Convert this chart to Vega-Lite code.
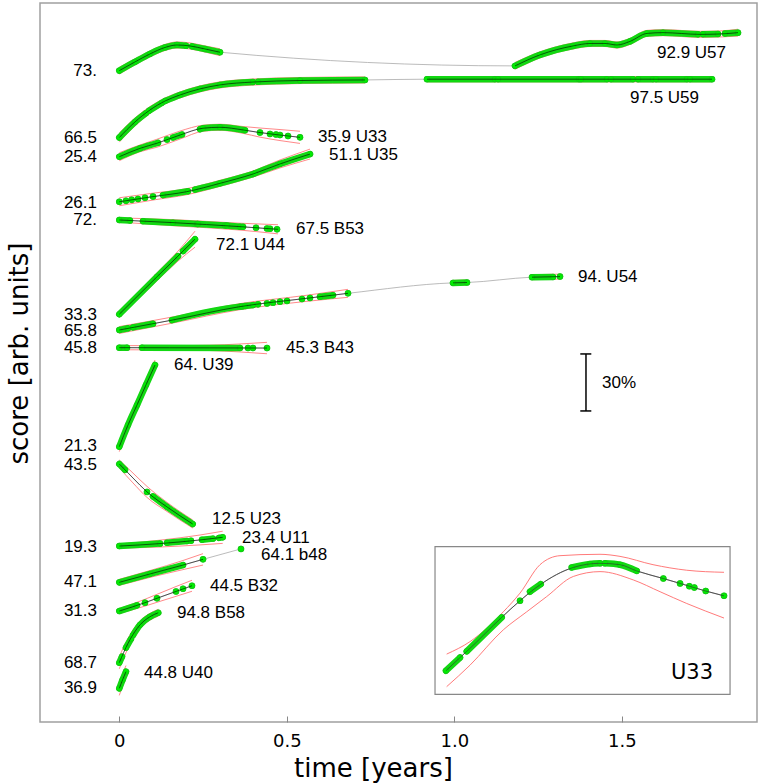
{
"$schema":"https://vega.github.io/schema/vega-lite/v6.json",
"width":717,"height":719,
"autosize":"none",
"padding":{"left":40,"top":3,"right":5,"bottom":62},
"config":{"view":{"stroke":"#a0a0a0","strokeWidth":1.5}},
"datasets":{
"curves":[
{"id":"U57","seg":"U57a","t":0,"v":342.8,"lo":341.0,"hi":344.6},
{"id":"U57","seg":"U57a","t":0.0469,"v":347.4,"lo":345.8,"hi":349.0},
{"id":"U57","seg":"U57a","t":0.0916,"v":351.6,"lo":350.0,"hi":353.2},
{"id":"U57","seg":"U57a","t":0.1364,"v":355.0,"lo":353.4,"hi":356.6},
{"id":"U57","seg":"U57a","t":0.1722,"v":356.3,"lo":354.7,"hi":357.9},
{"id":"U57","seg":"U57a","t":0.2110,"v":355.8,"lo":354.2,"hi":357.4},
{"id":"U57","seg":"U57a","t":0.2558,"v":354.2,"lo":352.6,"hi":355.8},
{"id":"U57","seg":"U57a","t":0.3006,"v":352.5,"lo":350.7,"hi":354.3},
{"id":"U57","seg":"U57b","t":1.1812,"v":345.3,"lo":343.5,"hi":347.1},
{"id":"U57","seg":"U57b","t":1.2558,"v":351.1,"lo":349.5,"hi":352.7},
{"id":"U57","seg":"U57b","t":1.3543,"v":355.8,"lo":354.2,"hi":357.4},
{"id":"U57","seg":"U57b","t":1.4051,"v":357.1,"lo":355.5,"hi":358.7},
{"id":"U57","seg":"U57b","t":1.4499,"v":357.1,"lo":355.5,"hi":358.7},
{"id":"U57","seg":"U57b","t":1.4857,"v":356.3,"lo":354.7,"hi":357.9},
{"id":"U57","seg":"U57b","t":1.5245,"v":358.2,"lo":356.6,"hi":359.8},
{"id":"U57","seg":"U57b","t":1.5752,"v":362.4,"lo":360.8,"hi":364.0},
{"id":"U57","seg":"U57b","t":1.6230,"v":362.8,"lo":361.2,"hi":364.4},
{"id":"U57","seg":"U57b","t":1.7334,"v":361.9,"lo":360.3,"hi":363.5},
{"id":"U57","seg":"U57b","t":1.7932,"v":362.1,"lo":360.5,"hi":363.7},
{"id":"U57","seg":"U57b","t":1.8469,"v":362.8,"lo":361.0,"hi":364.6},
{"id":"U59","seg":"U59a","t":0,"v":307.6,"lo":305.2,"hi":310.0},
{"id":"U59","seg":"U59a","t":0.0469,"v":315.8,"lo":313.7,"hi":317.9},
{"id":"U59","seg":"U59a","t":0.0916,"v":322.1,"lo":320.3,"hi":323.9},
{"id":"U59","seg":"U59a","t":0.1364,"v":326.8,"lo":325.2,"hi":328.4},
{"id":"U59","seg":"U59a","t":0.1812,"v":330.0,"lo":328.4,"hi":331.6},
{"id":"U59","seg":"U59a","t":0.2409,"v":333.2,"lo":331.6,"hi":334.8},
{"id":"U59","seg":"U59a","t":0.3006,"v":335.3,"lo":333.7,"hi":336.9},
{"id":"U59","seg":"U59a","t":0.3991,"v":336.8,"lo":335.2,"hi":338.4},
{"id":"U59","seg":"U59a","t":0.5394,"v":337.6,"lo":336.0,"hi":339.2},
{"id":"U59","seg":"U59a","t":0.7334,"v":337.9,"lo":336.3,"hi":339.5},
{"id":"U59","seg":"U59b","t":0.9185,"v":338.3,"lo":336.9,"hi":339.7},
{"id":"U59","seg":"U59b","t":1.1364,"v":338.3,"lo":336.9,"hi":339.7},
{"id":"U59","seg":"U59b","t":1.4349,"v":338.3,"lo":336.9,"hi":339.7},
{"id":"U59","seg":"U59b","t":1.7693,"v":338.3,"lo":336.9,"hi":339.7},
{"id":"U33","seg":"U33a","t":0,"v":297.5,"lo":295.4,"hi":299.6},
{"id":"U33","seg":"U33a","t":0.0618,"v":301.9,"lo":300.1,"hi":303.7},
{"id":"U33","seg":"U33a","t":0.1125,"v":304.6,"lo":302.5,"hi":306.7},
{"id":"U33","seg":"U33a","t":0.1812,"v":308.9,"lo":306.8,"hi":311.0},
{"id":"U33","seg":"U33a","t":0.2499,"v":312.5,"lo":310.9,"hi":314.1},
{"id":"U33","seg":"U33a","t":0.3006,"v":313.0,"lo":311.4,"hi":314.6},
{"id":"U33","seg":"U33a","t":0.3693,"v":311.6,"lo":309.8,"hi":313.4},
{"id":"U33","seg":"U33a","t":0.4200,"v":310.2,"lo":307.8,"hi":312.6},
{"id":"U33","seg":"U33a","t":0.4797,"v":308.9,"lo":306.0,"hi":311.8},
{"id":"U33","seg":"U33a","t":0.5394,"v":307.7,"lo":304.5,"hi":310.9},
{"id":"U35","seg":"U35a","t":0,"v":273.8,"lo":271.7,"hi":275.9},
{"id":"U35","seg":"U35a","t":0.1006,"v":276.5,"lo":274.7,"hi":278.3},
{"id":"U35","seg":"U35a","t":0.2012,"v":279.1,"lo":277.5,"hi":280.7},
{"id":"U35","seg":"U35a","t":0.3006,"v":283.5,"lo":281.9,"hi":285.1},
{"id":"U35","seg":"U35a","t":0.3991,"v":288.4,"lo":286.8,"hi":290.0},
{"id":"U35","seg":"U35a","t":0.4797,"v":293.7,"lo":291.6,"hi":295.8},
{"id":"U35","seg":"U35a","t":0.5693,"v":298.9,"lo":296.3,"hi":301.5},
{"id":"B53","seg":"B53a","t":0,"v":264.2,"lo":263.1,"hi":265.3},
{"id":"B53","seg":"B53a","t":0.1603,"v":262.8,"lo":261.2,"hi":264.4},
{"id":"B53","seg":"B53a","t":0.3603,"v":260.7,"lo":258.9,"hi":262.5},
{"id":"B53","seg":"B53a","t":0.4737,"v":259.3,"lo":256.9,"hi":261.7},
{"id":"U44","seg":"U44a","t":0,"v":214.6,"lo":213.0,"hi":216.2},
{"id":"U44","seg":"U44a","t":0.1125,"v":234.3,"lo":232.2,"hi":236.4},
{"id":"U44","seg":"U44a","t":0.1752,"v":245.2,"lo":242.6,"hi":247.8},
{"id":"U44","seg":"U44a","t":0.2260,"v":254.1,"lo":249.9,"hi":258.3},
{"id":"U54","seg":"U54a","t":0,"v":206.3,"lo":204.5,"hi":208.1},
{"id":"U54","seg":"U54a","t":0.1603,"v":211.6,"lo":210.0,"hi":213.2},
{"id":"U54","seg":"U54a","t":0.3603,"v":218.6,"lo":217.0,"hi":220.2},
{"id":"U54","seg":"U54a","t":0.5603,"v":223.0,"lo":221.4,"hi":224.6},
{"id":"U54","seg":"U54a","t":0.6827,"v":225.6,"lo":223.5,"hi":227.7},
{"id":"U54","seg":"U54b","t":0.9961,"v":231.1,"lo":229.8,"hi":232.4},
{"id":"U54","seg":"U54b","t":1.0379,"v":231.3,"lo":230.0,"hi":232.6},
{"id":"U54","seg":"U54c","t":1.2320,"v":234.1,"lo":232.8,"hi":235.4},
{"id":"U54","seg":"U54c","t":1.3155,"v":234.4,"lo":233.1,"hi":235.7},
{"id":"B43","seg":"B43a","t":0,"v":197.0,"lo":195.9,"hi":198.1},
{"id":"B43","seg":"B43a","t":0.15,"v":196.95,"lo":195.85,"hi":198.05},
{"id":"B43","seg":"B43a","t":0.27,"v":196.9,"lo":195.5,"hi":198.3},
{"id":"B43","seg":"B43a","t":0.3603,"v":196.85,"lo":194.75,"hi":198.95},
{"id":"B43","seg":"B43a","t":0.4409,"v":196.8,"lo":193.8,"hi":199.8},
{"id":"U39","seg":"U39a","t":0,"v":144.9,"lo":142.3,"hi":147.5},
{"id":"U39","seg":"U39a","t":0.0260,"v":156.3,"lo":153.9,"hi":158.7},
{"id":"U39","seg":"U39a","t":0.0528,"v":166.8,"lo":164.4,"hi":169.2},
{"id":"U39","seg":"U39a","t":0.0797,"v":177.4,"lo":175.0,"hi":179.8},
{"id":"U39","seg":"U39a","t":0.1066,"v":187.9,"lo":185.3,"hi":190.5},
{"id":"U23","seg":"U23a","t":0,"v":135.8,"lo":133.7,"hi":137.9},
{"id":"U23","seg":"U23a","t":0.0409,"v":128.4,"lo":125.8,"hi":131.0},
{"id":"U23","seg":"U23a","t":0.0827,"v":121.1,"lo":118.2,"hi":124.0},
{"id":"U23","seg":"U23a","t":0.1424,"v":113.2,"lo":110.8,"hi":115.6},
{"id":"U23","seg":"U23a","t":0.2191,"v":104.2,"lo":102.1,"hi":106.3},
{"id":"U11","seg":"U11a","t":0,"v":92.6,"lo":91.5,"hi":93.7},
{"id":"U11","seg":"U11a","t":0.1215,"v":93.9,"lo":92.1,"hi":95.7},
{"id":"U11","seg":"U11a","t":0.2409,"v":95.8,"lo":93.2,"hi":98.4},
{"id":"U11","seg":"U11a","t":0.3087,"v":97.2,"lo":94.0,"hi":100.4},
{"id":"b48","seg":"b48a","t":0,"v":73.5,"lo":71.9,"hi":75.1},
{"id":"b48","seg":"b48a","t":0.0916,"v":77.9,"lo":76.1,"hi":79.7},
{"id":"b48","seg":"b48a","t":0.1902,"v":82.6,"lo":80.2,"hi":85.0},
{"id":"b48","seg":"b48a","t":0.2499,"v":85.6,"lo":82.6,"hi":88.6},
{"id":"b48","seg":"b48x","t":0.3633,"v":91.1,"lo":91.1,"hi":91.1},
{"id":"B32","seg":"B32a","t":0,"v":58.4,"lo":57.1,"hi":59.7},
{"id":"B32","seg":"B32a","t":0.0767,"v":62.8,"lo":61.0,"hi":64.6},
{"id":"B32","seg":"B32a","t":0.1125,"v":65.1,"lo":63.0,"hi":67.2},
{"id":"B32","seg":"B32a","t":0.1722,"v":68.9,"lo":66.3,"hi":71.5},
{"id":"B32","seg":"B32a","t":0.2170,"v":71.7,"lo":68.8,"hi":74.6},
{"id":"B58","seg":"B58a","t":0,"v":31.2,"lo":28.0,"hi":34.4},
{"id":"B58","seg":"B58a","t":0.0260,"v":41.4,"lo":38.8,"hi":44.0},
{"id":"B58","seg":"B58a","t":0.0618,"v":51.1,"lo":49.0,"hi":53.2},
{"id":"B58","seg":"B58a","t":0.0916,"v":55.4,"lo":53.6,"hi":57.2},
{"id":"B58","seg":"B58a","t":0.1164,"v":57.5,"lo":55.7,"hi":59.3},
{"id":"U40","seg":"U40a","t":0,"v":17.7,"lo":14.0,"hi":21.4},
{"id":"U40","seg":"U40a","t":0.0096,"v":22.1,"lo":18.9,"hi":25.3},
{"id":"U40","seg":"U40a","t":0.0200,"v":26.5,"lo":23.3,"hi":29.7}
],
"obs":[
{"run":"U57-1","t":0,"v":342.8},{"run":"U57-1","t":0.0469,"v":347.4},{"run":"U57-1","t":0.0916,"v":351.6},{"run":"U57-1","t":0.1364,"v":355.0},{"run":"U57-1","t":0.1722,"v":356.3},{"run":"U57-1","t":0.1991,"v":355.9},
{"run":"U57-2","t":0.2170,"v":355.6},{"run":"U57-2","t":0.2558,"v":354.2},{"run":"U57-2","t":0.3006,"v":352.5},
{"run":"U57-3","t":1.1812,"v":345.3},{"run":"U57-3","t":1.2558,"v":351.1},{"run":"U57-3","t":1.3543,"v":355.8},{"run":"U57-3","t":1.4051,"v":357.1},{"run":"U57-3","t":1.4499,"v":357.1},{"run":"U57-3","t":1.4857,"v":356.3},{"run":"U57-3","t":1.5245,"v":358.2},{"run":"U57-3","t":1.5752,"v":362.4},{"run":"U57-3","t":1.6230,"v":362.8},{"run":"U57-3","t":1.7275,"v":361.9},
{"run":"U57-4","t":1.7424,"v":362.0},{"run":"U57-4","t":1.7872,"v":362.1},
{"run":"U57-5","t":1.8081,"v":362.3},{"run":"U57-5","t":1.8469,"v":362.8},
{"run":"U59-1","t":0,"v":307.6},{"run":"U59-1","t":0.0469,"v":315.8},{"run":"U59-1","t":0.0797,"v":320.4},
{"run":"U59-2","t":0.0887,"v":321.7},{"run":"U59-2","t":0.1275,"v":325.9},
{"run":"U59-3","t":0.1364,"v":326.8},{"run":"U59-3","t":0.1812,"v":330.0},{"run":"U59-3","t":0.2409,"v":333.2},{"run":"U59-3","t":0.3006,"v":335.3},{"run":"U59-3","t":0.3991,"v":336.8},
{"run":"U59-4","t":0.4140,"v":336.9},{"run":"U59-4","t":0.5394,"v":337.6},{"run":"U59-4","t":0.7334,"v":337.9},
{"run":"U59-5","t":0.9185,"v":338.3},{"run":"U59-5","t":1.1214,"v":338.3},
{"run":"U59-6","t":1.1304,"v":338.3},{"run":"U59-6","t":1.3722,"v":338.3},
{"run":"U59-7","t":1.3782,"v":338.3},{"run":"U59-7","t":1.4558,"v":338.3},
{"run":"U59-8","t":1.4678,"v":338.3},{"run":"U59-8","t":1.5334,"v":338.3},
{"run":"U59-9","t":1.5484,"v":338.3},{"run":"U59-9","t":1.5931,"v":338.3},
{"run":"U59-10","t":1.6021,"v":338.3},{"run":"U59-10","t":1.6946,"v":338.3},
{"run":"U59-11","t":1.7036,"v":338.3},{"run":"U59-11","t":1.7693,"v":338.3},
{"run":"U33-1","t":0,"v":297.5},{"run":"U33-1","t":0.0618,"v":301.9},{"run":"U33-1","t":0.1155,"v":304.8},
{"run":"U33-d1","t":0.1424,"v":306.5},
{"run":"U33-2","t":0.1603,"v":307.6},{"run":"U33-2","t":0.1872,"v":309.2},
{"run":"U33-3","t":0.2409,"v":312.0},{"run":"U33-3","t":0.2499,"v":312.5},{"run":"U33-3","t":0.3006,"v":313.0},{"run":"U33-3","t":0.3752,"v":311.4},
{"run":"U33-d2","t":0.4200,"v":310.2},{"run":"U33-d3","t":0.4499,"v":309.5},{"run":"U33-d4","t":0.4678,"v":309.2},{"run":"U33-d5","t":0.4797,"v":308.9},{"run":"U33-d6","t":0.5036,"v":308.4},{"run":"U33-d7","t":0.5394,"v":307.7},
{"run":"U35-d1","t":0,"v":273.8},{"run":"U35-d2","t":0.0200,"v":274.3},{"run":"U35-d3","t":0.0370,"v":274.8},{"run":"U35-d4","t":0.0558,"v":275.3},{"run":"U35-d5","t":0.0767,"v":275.9},{"run":"U35-d6","t":0.1006,"v":276.5},
{"run":"U35-1","t":0.1304,"v":277.3},{"run":"U35-1","t":0.2051,"v":279.3},
{"run":"U35-2","t":0.2260,"v":280.2},{"run":"U35-2","t":0.3006,"v":283.5},{"run":"U35-2","t":0.3991,"v":288.4},
{"run":"U35-3","t":0.4051,"v":288.8},{"run":"U35-3","t":0.4797,"v":293.7},{"run":"U35-3","t":0.5693,"v":298.9},
{"run":"B53-1","t":0,"v":264.2},{"run":"B53-1","t":0.0319,"v":263.9},
{"run":"B53-2","t":0.0707,"v":263.6},{"run":"B53-2","t":0.1603,"v":262.8},{"run":"B53-2","t":0.2319,"v":262.1},
{"run":"B53-3","t":0.2349,"v":262.1},{"run":"B53-3","t":0.3155,"v":261.3},
{"run":"B53-4","t":0.3215,"v":261.3},{"run":"B53-4","t":0.3603,"v":260.7},{"run":"B53-4","t":0.3693,"v":260.6},
{"run":"B53-d1","t":0.4081,"v":260.1},{"run":"B53-d2","t":0.4409,"v":259.7},{"run":"B53-d3","t":0.4499,"v":259.6},{"run":"B53-d4","t":0.4708,"v":259.3},
{"run":"U44-1","t":0,"v":214.6},{"run":"U44-1","t":0.1125,"v":234.3},{"run":"U44-1","t":0.1752,"v":245.2},
{"run":"U44-2","t":0.1902,"v":247.8},{"run":"U44-2","t":0.2260,"v":254.1},
{"run":"U54-1","t":0,"v":206.3},{"run":"U54-1","t":0.0260,"v":207.2},
{"run":"U54-2","t":0.0409,"v":207.7},{"run":"U54-2","t":0.1006,"v":209.6},
{"run":"U54-3","t":0.1573,"v":211.5},{"run":"U54-3","t":0.3603,"v":218.6},{"run":"U54-3","t":0.3663,"v":218.7},
{"run":"U54-4","t":0.3752,"v":218.9},{"run":"U54-4","t":0.3991,"v":219.4},
{"run":"U54-d1","t":0.4140,"v":219.8},{"run":"U54-d2","t":0.4409,"v":220.3},{"run":"U54-d3","t":0.4588,"v":220.7},{"run":"U54-d4","t":0.4797,"v":221.2},{"run":"U54-d5","t":0.5006,"v":221.6},{"run":"U54-d6","t":0.5454,"v":222.6},{"run":"U54-d7","t":0.5693,"v":223.2},
{"run":"U54-5","t":0.5991,"v":223.8},{"run":"U54-5","t":0.6379,"v":224.6},
{"run":"U54-d8","t":0.6827,"v":225.6},
{"run":"U54-6","t":0.9961,"v":231.1},{"run":"U54-6","t":1.0379,"v":231.3},
{"run":"U54-7","t":1.2320,"v":234.1},{"run":"U54-7","t":1.2946,"v":234.2},
{"run":"U54-d9","t":1.3155,"v":234.4},
{"run":"B43-1","t":0,"v":197.0},{"run":"B43-1","t":0.0230,"v":197.0},
{"run":"B43-2","t":0.0678,"v":197.0},{"run":"B43-2","t":0.3603,"v":196.85},
{"run":"B43-d1","t":0.3842,"v":196.83},{"run":"B43-d2","t":0.3991,"v":196.82},{"run":"B43-d3","t":0.4409,"v":196.8},
{"run":"U39-1","t":0,"v":144.9},{"run":"U39-1","t":0.0260,"v":156.3},{"run":"U39-1","t":0.0528,"v":166.8},{"run":"U39-1","t":0.0797,"v":177.4},{"run":"U39-1","t":0.1066,"v":187.9},
{"run":"U23-1","t":0,"v":135.8},{"run":"U23-1","t":0.0170,"v":132.7},
{"run":"U23-d1","t":0.0827,"v":121.1},
{"run":"U23-2","t":0.1006,"v":118.7},{"run":"U23-2","t":0.1424,"v":113.2},{"run":"U23-2","t":0.2191,"v":104.2},
{"run":"U11-1","t":0,"v":92.6},{"run":"U11-1","t":0.1215,"v":93.9},
{"run":"U11-2","t":0.1424,"v":94.3},{"run":"U11-2","t":0.2021,"v":95.2},
{"run":"U11-d1","t":0.2140,"v":95.4},
{"run":"U11-3","t":0.2469,"v":95.9},{"run":"U11-3","t":0.2797,"v":96.5},
{"run":"U11-4","t":0.2976,"v":96.9},{"run":"U11-4","t":0.3087,"v":97.2},
{"run":"b48-1","t":0,"v":73.5},{"run":"b48-1","t":0.0916,"v":77.9},{"run":"b48-1","t":0.1902,"v":82.6},
{"run":"b48-d1","t":0.2499,"v":85.6},{"run":"b48-d2","t":0.3633,"v":91.1},
{"run":"B32-1","t":0,"v":58.4},{"run":"B32-1","t":0.0528,"v":61.4},
{"run":"B32-d1","t":0.0767,"v":62.8},{"run":"B32-d2","t":0.1125,"v":65.1},{"run":"B32-d3","t":0.1693,"v":68.7},{"run":"B32-d4","t":0.1902,"v":70.1},{"run":"B32-d5","t":0.2170,"v":71.7},
{"run":"B58-1","t":0,"v":31.2},{"run":"B58-1","t":0.0081,"v":34.4},
{"run":"B58-2","t":0.0200,"v":39.1},{"run":"B58-2","t":0.0349,"v":43.7},
{"run":"B58-3","t":0.0409,"v":45.7},{"run":"B58-3","t":0.0618,"v":51.1},{"run":"B58-3","t":0.0916,"v":55.4},{"run":"B58-3","t":0.1164,"v":57.5},
{"run":"U40-1","t":0,"v":17.7},{"run":"U40-1","t":0.0096,"v":22.1},{"run":"U40-1","t":0.0200,"v":26.5}
],
"labels":[
{"side":"left","t":-0.0666,"v":342.6,"text":"73."},
{"side":"left","t":-0.0666,"v":307.2,"text":"66.5"},
{"side":"left","t":-0.0666,"v":297.5,"text":"25.4"},
{"side":"left","t":-0.0666,"v":273.3,"text":"26.1"},
{"side":"left","t":-0.0666,"v":264.2,"text":"72."},
{"side":"left","t":-0.0666,"v":214.4,"text":"33.3"},
{"side":"left","t":-0.0666,"v":205.7,"text":"65.8"},
{"side":"left","t":-0.0666,"v":197.0,"text":"45.8"},
{"side":"left","t":-0.0666,"v":145.3,"text":"21.3"},
{"side":"left","t":-0.0666,"v":135.3,"text":"43.5"},
{"side":"left","t":-0.0666,"v":92.3,"text":"19.3"},
{"side":"left","t":-0.0666,"v":73.8,"text":"47.1"},
{"side":"left","t":-0.0666,"v":58.4,"text":"31.3"},
{"side":"left","t":-0.0666,"v":31.2,"text":"68.7"},
{"side":"left","t":-0.0666,"v":18.1,"text":"36.9"},
{"side":"right","t":1.6051,"v":352.1,"text":"92.9 U57"},
{"side":"right","t":1.5245,"v":328.4,"text":"97.5 U59"},
{"side":"right","t":0.5931,"v":307.9,"text":"35.9 U33"},
{"side":"right","t":0.6260,"v":298.4,"text":"51.1 U35"},
{"side":"right","t":0.5275,"v":259.5,"text":"67.5 B53"},
{"side":"right","t":0.2887,"v":251.1,"text":"72.1 U44"},
{"side":"right","t":1.3693,"v":234.2,"text":"94. U54"},
{"side":"right","t":0.4976,"v":196.8,"text":"45.3 B43"},
{"side":"right","t":0.1633,"v":187.9,"text":"64. U39"},
{"side":"right","t":0.2767,"v":106.8,"text":"12.5 U23"},
{"side":"right","t":0.3663,"v":97.0,"text":"23.4 U11"},
{"side":"right","t":0.4230,"v":87.9,"text":"64.1 b48"},
{"side":"right","t":0.2707,"v":71.6,"text":"44.5 B32"},
{"side":"right","t":0.1722,"v":57.4,"text":"94.8 B58"},
{"side":"right","t":0.0737,"v":25.6,"text":"44.8 U40"},
{"side":"bar","t":1.4409,"v":178.3,"text":"30%"}
],
"bar":[
{"t":1.3931,"t2":1.3931,"v":163.7,"v2":193.7},
{"t":1.3761,"t2":1.4090,"v":163.7,"v2":163.7},
{"t":1.3761,"t2":1.4090,"v":193.7,"v2":193.7}
],
"inset":[
{"part":"center","t":0,"v":297.5},{"part":"center","t":0.0272,"v":299.4},{"part":"center","t":0.0433,"v":300.5},{"part":"center","t":0.1081,"v":305.2},{"part":"center","t":0.1436,"v":307.6},{"part":"center","t":0.1824,"v":309.9},{"part":"center","t":0.2470,"v":312.4},{"part":"center","t":0.2988,"v":313.0},{"part":"center","t":0.3376,"v":312.8},{"part":"center","t":0.3700,"v":311.9},{"part":"center","t":0.4217,"v":310.8},{"part":"center","t":0.4541,"v":310.1},{"part":"center","t":0.5039,"v":309.0},{"part":"center","t":0.5394,"v":308.3},
{"part":"upper","t":0.0013,"v":299.9},{"part":"upper","t":0.0466,"v":301.7},{"part":"upper","t":0.1112,"v":306.0},{"part":"upper","t":0.1436,"v":308.7},{"part":"upper","t":0.1824,"v":312.8},{"part":"upper","t":0.2212,"v":314.1},{"part":"upper","t":0.2988,"v":314.3},{"part":"upper","t":0.3376,"v":314.0},{"part":"upper","t":0.4017,"v":312.8},{"part":"upper","t":0.4671,"v":312.0},{"part":"upper","t":0.5394,"v":311.7},
{"part":"lower","t":0.0013,"v":295.2},{"part":"lower","t":0.0466,"v":298.3},{"part":"lower","t":0.1112,"v":303.4},{"part":"lower","t":0.1566,"v":306.0},{"part":"lower","t":0.1954,"v":308.2},{"part":"lower","t":0.2470,"v":311.1},{"part":"lower","t":0.2988,"v":311.8},{"part":"lower","t":0.3634,"v":310.6},{"part":"lower","t":0.4153,"v":308.9},{"part":"lower","t":0.4671,"v":307.2},{"part":"lower","t":0.5394,"v":305.1}
],
"insetObs":[
{"run":"r1","t":0,"v":297.5},{"run":"r1","t":0.0272,"v":299.4},
{"run":"r2","t":0.0402,"v":300.3},{"run":"r2","t":0.1081,"v":305.2},
{"run":"d1","t":0.1436,"v":307.6},
{"run":"r3","t":0.1630,"v":308.9},{"run":"r3","t":0.1838,"v":310.0},
{"run":"r4","t":0.2439,"v":312.4},{"run":"r4","t":0.2794,"v":312.9},{"run":"r4","t":0.2988,"v":313.0},
{"run":"r5","t":0.3085,"v":313.0},{"run":"r5","t":0.3376,"v":312.8},{"run":"r5","t":0.3700,"v":311.9},
{"run":"d2","t":0.4217,"v":310.8},{"run":"d3","t":0.4541,"v":310.1},{"run":"d4","t":0.4721,"v":309.7},{"run":"d5","t":0.4818,"v":309.5},{"run":"d6","t":0.5039,"v":309.0},{"run":"d7","t":0.5394,"v":308.3}
],
"insetBox":[{"t":-0.0213,"t2":0.5511,"v":294.1,"v2":315.4,"text":"U33","lt":0.5181,"lv":297.2}]
},
"layer":[
{
"encoding":{
"x":{"field":"t","type":"quantitative","scale":{"domain":[-0.2367,1.9036],"nice":false,"zero":false},
 "axis":{"values":[0,0.5,1,1.5],"labelExpr":"datum.value == 0 ? '0' : format(datum.value, '.1f')","tickSize":-6,"tickColor":"#888888","tickWidth":1,"labelPadding":16,"domain":false,"grid":false,"title":"time [years]","titleFont":"DejaVu Sans","titleFontSize":26,"titleFontWeight":"normal","titleColor":"#000000","labelFont":"DejaVu Sans","labelFontSize":18,"labelColor":"#000000","titleX":333,"titleAlign":"center","titleY":54,"titleBaseline":"alphabetic"}},
"y":{"field":"v","type":"quantitative","scale":{"domain":[0,378.4],"nice":false,"zero":false},
 "axis":{"title":"score [arb. units]","labels":false,"ticks":false,"domain":false,"grid":false,"titleFont":"DejaVu Sans","titleFontSize":26,"titleFontWeight":"normal","titleColor":"#000000","titleX":-13,"titleY":350,"titleBaseline":"alphabetic"}}
},
"layer":[
{"data":{"name":"curves"},"mark":{"type":"line","interpolate":"monotone","color":"#aaaaaa","strokeWidth":0.8},"encoding":{"detail":{"field":"id"}}},
{"data":{"name":"curves"},"transform":[{"fold":["lo","hi"],"as":["side","v"]}],"mark":{"type":"line","interpolate":"monotone","color":"#ff6b6b","strokeWidth":0.8},"encoding":{"detail":[{"field":"seg"},{"field":"side"}]}},
{"data":{"name":"obs"},"mark":{"type":"line","interpolate":"monotone","color":"#12d812","strokeWidth":6.5,"strokeCap":"round"},"encoding":{"detail":{"field":"run"}}},
{"data":{"name":"obs"},"mark":{"type":"circle","size":32,"color":"#00ee00","opacity":1,"stroke":"#20b020","strokeWidth":0.6},"encoding":{}},
{"data":{"name":"curves"},"mark":{"type":"line","interpolate":"monotone","color":"#000000","strokeWidth":0.7,"opacity":0.85},"encoding":{"detail":{"field":"seg"}}},
{"data":{"name":"labels"},"transform":[{"filter":"datum.side == 'left'"}],"mark":{"type":"text","align":"right","baseline":"middle","font":"Liberation Sans","fontSize":17,"color":"#000000"},"encoding":{"text":{"field":"text"}}},
{"data":{"name":"labels"},"transform":[{"filter":"datum.side != 'left'"}],"mark":{"type":"text","align":"left","baseline":"middle","font":"Liberation Sans","fontSize":17,"color":"#000000"},"encoding":{"text":{"field":"text"}}},
{"data":{"name":"bar"},"mark":{"type":"rule","color":"#000000","strokeWidth":1.5},"encoding":{"x2":{"field":"t2"},"y2":{"field":"v2"}}}
]
},
{
"encoding":{
"x":{"field":"t","type":"quantitative","scale":{"domain":[-0.7877,0.6034],"nice":false,"zero":false},"axis":null},
"y":{"field":"v","type":"quantitative","scale":{"domain":[290.1,393.85],"nice":false,"zero":false},"axis":null}
},
"layer":[
{"data":{"name":"insetBox"},"mark":{"type":"rect","fill":"#ffffff","stroke":"#888888","strokeWidth":1.2},"encoding":{"x2":{"field":"t2"},"y2":{"field":"v2"}}},
{"data":{"name":"inset"},"transform":[{"filter":"datum.part != 'center'"}],"mark":{"type":"line","interpolate":"monotone","color":"#ff6b6b","strokeWidth":0.9},"encoding":{"detail":{"field":"part"}}},
{"data":{"name":"inset"},"transform":[{"filter":"datum.part == 'center'"}],"mark":{"type":"line","interpolate":"monotone","color":"#777777","strokeWidth":0.9},"encoding":{}},
{"data":{"name":"insetObs"},"mark":{"type":"line","interpolate":"monotone","color":"#12d812","strokeWidth":6.5,"strokeCap":"round"},"encoding":{"detail":{"field":"run"}}},
{"data":{"name":"insetObs"},"mark":{"type":"circle","size":32,"color":"#00ee00","opacity":1,"stroke":"#20b020","strokeWidth":0.6},"encoding":{}},
{"data":{"name":"inset"},"transform":[{"filter":"datum.part == 'center'"}],"mark":{"type":"line","interpolate":"monotone","color":"#333333","strokeWidth":0.8,"opacity":0.8},"encoding":{}},
{"data":{"name":"insetBox"},"mark":{"type":"text","align":"right","baseline":"middle","font":"DejaVu Sans","fontSize":21,"color":"#000000"},"encoding":{"x":{"field":"lt","type":"quantitative"},"y":{"field":"lv","type":"quantitative"},"text":{"field":"text"}}}
]
}
],
"resolve":{"scale":{"x":"independent","y":"independent"}}
}
